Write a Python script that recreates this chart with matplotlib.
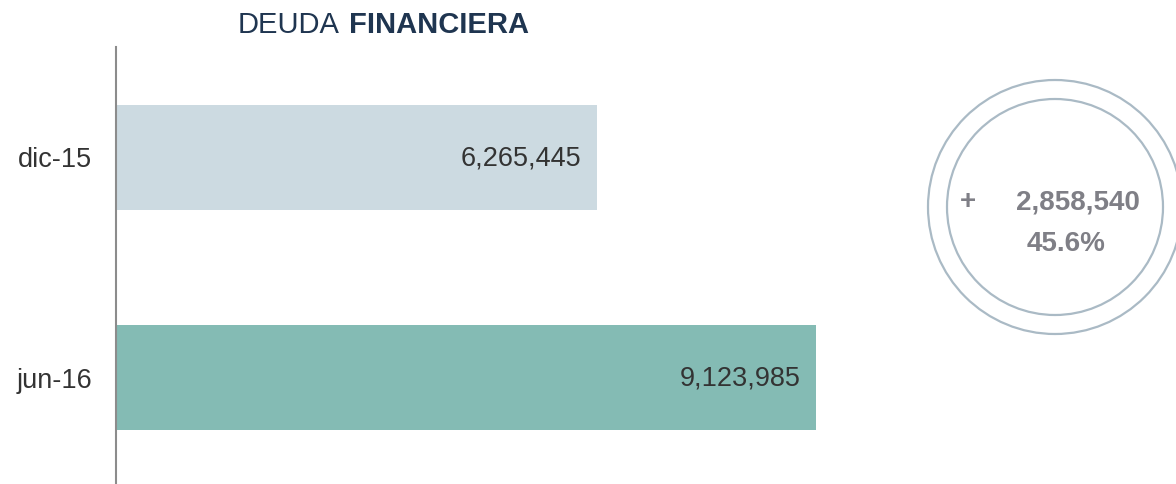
import matplotlib.pyplot as plt
from matplotlib.patches import Circle

# ==============================
# DATA
# ==============================

periods = ["dic-15", "jun-16"]
deuda = [6265445, 9123985]
bar_colors = ["#CCDAE1", "#84BBB4"]

diff = deuda[1] - deuda[0]
pct = diff / deuda[0] * 100

plt.rcParams["font.family"] = ["Liberation Sans", "DejaVu Sans"]

W, H = 1176, 484
fig = plt.figure(figsize=(W / 100, H / 100), dpi=100)

# ==============================
# BAR CHART
# ==============================

ax = fig.add_axes([116 / W, 0, (900 - 116) / W, (484 - 47) / H])
ax.barh(periods, deuda, height=0.477, color=bar_colors)
ax.set_xlim(0, 784 / 7.675e-5)
ax.set_ylim(1.484, -0.502)

for i, v in enumerate(deuda):
    ax.annotate(f"{v:,}", (v, i), xytext=(-11, -1), textcoords="offset points",
                ha="right", va="center", fontsize=19.5, color="#333333")

for s in ["top", "right", "bottom"]:
    ax.spines[s].set_visible(False)
ax.spines["left"].set_color("#8C8C8C")
ax.spines["left"].set_linewidth(1.5)
ax.set_xticks([])
ax.tick_params(axis="y", length=0, pad=17, labelsize=19.5, labelcolor="#333333")

# ==============================
# TITLE
# ==============================

fig.text(238 / W, 1 - 25 / H, "DEUDA", ha="left", va="center",
         fontsize=21, color="#1F3550")
fig.text(349 / W, 1 - 25 / H, "FINANCIERA", ha="left", va="center",
         fontsize=21, color="#1F3550", fontweight="bold")

# ==============================
# CIRCLE BADGE
# ==============================

cax = fig.add_axes([0, 0, 1, 1])
cax.set_xlim(0, W)
cax.set_ylim(H, 0)
cax.axis("off")
cax.add_patch(Circle((1055, 207), 127, fill=False, ec="#AABAC5", lw=1.6))
cax.add_patch(Circle((1055, 207), 108, fill=False, ec="#AABAC5", lw=1.6))
cax.text(968, 202, "+", ha="center", va="center", fontsize=20,
         fontweight="bold", color="#7F7F86")
cax.text(1078, 202, f"{diff:,}", ha="center", va="center", fontsize=20,
         fontweight="bold", color="#7F7F86")
cax.text(1066, 244, f"{pct:.1f}%", ha="center", va="center", fontsize=20,
         fontweight="bold", color="#7F7F86")

fig.savefig("out.png", dpi=100)
